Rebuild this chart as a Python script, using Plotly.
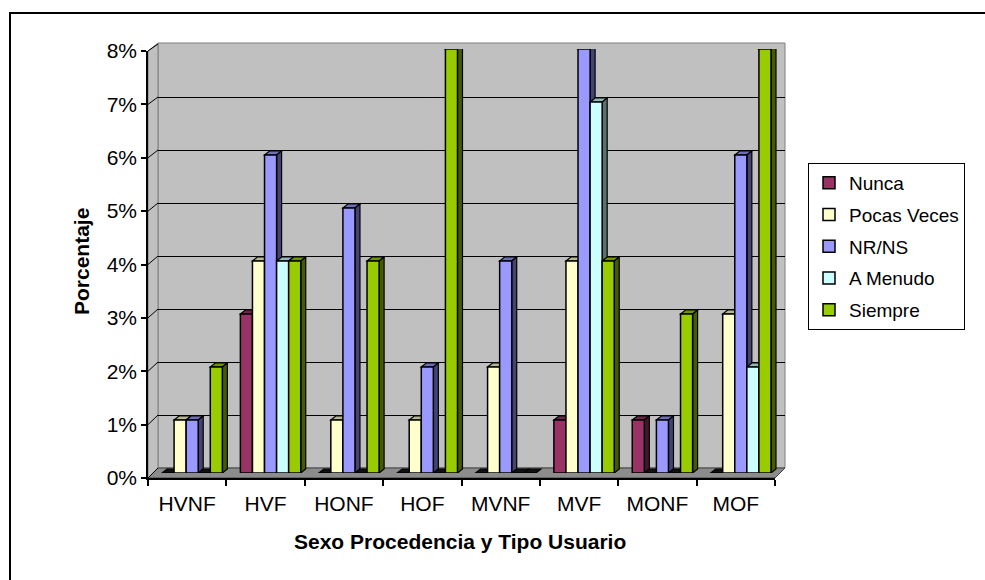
import plotly.graph_objects as go

# ---- data (percentages) ----
categorias = ["HVNF", "HVF", "HONF", "HOF", "MVNF", "MVF", "MONF", "MOF"]
nunca = [0, 3, 0, 0, 0, 1, 1, 0]
pocas_veces = [1, 4, 1, 1, 2, 4, 0, 3]
nr_ns = [1, 6, 5, 2, 4, 8, 1, 6]
a_menudo = [0, 4, 0, 0, 0, 7, 0, 2]
siempre = [2, 4, 4, 8, 0, 4, 3, 8]
series_nombres = ["Nunca", "Pocas Veces", "NR/NS", "A Menudo", "Siempre"]
series_valores = [nunca, pocas_veces, nr_ns, a_menudo, siempre]
ticks_y = [0, 1, 2, 3, 4, 5, 6, 7, 8]

# ---- styling ----
colores = ["#993366", "#FFFFCC", "#9999FF", "#CCFFFF", "#99CC00"]
FONT = "Liberation Sans, Arial, sans-serif"
W, H = 985, 580
BARGAP = 0.23


def px(xp):
    return xp / W


def py(yp):
    return 1 - yp / H


def shade(hexcol, f):
    h = hexcol.lstrip("#")
    r, g, b = (int(h[i:i + 2], 16) for i in (0, 2, 4))
    return "#%02x%02x%02x" % (int(r * f), int(g * f), int(b * f))


# pixel geometry of the 3D box: back wall, bar plane, front axes
WALL = dict(x0=158, x1=785, y0=468, y1=44)
BARS = dict(x0=153, x1=780, y0=473, y1=49)
FRONT = dict(x0=148, x1=775, y0=478, y1=51)
ncat = len(categorias)
ymax = ticks_y[-1]

fig = go.Figure()

# anchor traces so the wall and front-axis subplots exist
fig.add_trace(go.Scatter(x=[0], y=[0], xaxis="x", yaxis="y", mode="markers",
                         marker=dict(opacity=0), hoverinfo="skip", showlegend=False))
fig.add_trace(go.Scatter(x=categorias, y=[0] * ncat, xaxis="x3", yaxis="y3", mode="markers",
                         marker=dict(opacity=0), hoverinfo="skip", showlegend=False))

idx = list(range(ncat))
for nombre, vals, col in zip(series_nombres, series_valores, colores):
    fig.add_trace(go.Bar(
        x=idx, y=vals, name=nombre, xaxis="x2", yaxis="y2",
        marker=dict(color=col, line=dict(color="black", width=1.5)),
        customdata=categorias, legendgroup=nombre,
        hovertemplate="%{customdata}: %{y}%<extra>" + nombre + "</extra>",
    ))

# depth of each bar (side and top faces) in data units of the bar plane
ux = (BARS["x1"] - BARS["x0"]) / ncat
uy = (BARS["y0"] - BARS["y1"]) / ymax
dx = 5 / ux
dy = 4 / uy
nser = len(series_nombres)
bw = (1 - BARGAP) / nser

shapes = []
# back wall, side wall and floor
shapes.append(dict(type="rect", xref="paper", yref="paper", layer="below",
                   x0=px(WALL["x0"]), x1=px(WALL["x1"]), y0=py(WALL["y0"]), y1=py(WALL["y1"] - 1),
                   fillcolor="#C0C0C0", line=dict(color="#808080", width=1)))
side_path = "M %f,%f L %f,%f L %f,%f L %f,%f Z" % (
    px(FRONT["x0"]), py(FRONT["y1"]), px(WALL["x0"]), py(WALL["y1"] - 1),
    px(WALL["x0"]), py(WALL["y0"]), px(FRONT["x0"]), py(FRONT["y0"]))
shapes.append(dict(type="path", xref="paper", yref="paper", layer="below", path=side_path,
                   fillcolor="#C0C0C0", line=dict(color="#808080", width=1)))
floor_path = "M %f,%f L %f,%f L %f,%f L %f,%f Z" % (
    px(FRONT["x0"]), py(FRONT["y0"]), px(FRONT["x1"]), py(FRONT["y0"]),
    px(WALL["x1"]), py(WALL["y0"]), px(WALL["x0"]), py(WALL["y0"]))
shapes.append(dict(type="path", xref="paper", yref="paper", layer="below", path=floor_path,
                   fillcolor="#8C8C8C", line=dict(color="#404040", width=1)))
# gridline stubs across the side wall
for k in ticks_y:
    yf = FRONT["y0"] - k * (FRONT["y0"] - FRONT["y1"]) / ymax
    yw = WALL["y0"] - k * (WALL["y0"] - WALL["y1"]) / ymax
    shapes.append(dict(type="line", xref="paper", yref="paper", layer="below",
                       x0=px(FRONT["x0"]), y0=py(yf), x1=px(WALL["x0"]), y1=py(yw),
                       line=dict(color="black", width=1)))

# top and side faces of every bar, drawn just under the bar fronts
for j, (vals, col) in enumerate(zip(series_valores, colores)):
    for i, v in enumerate(vals):
        left = i - (1 - BARGAP) / 2 + j * bw
        right = left + bw
        top = "M %f,%f L %f,%f L %f,%f L %f,%f Z" % (
            left, v, right, v, right + dx, v + dy, left + dx, v + dy)
        # an empty bar collapses to a dark flat slab on the floor
        top_fill = shade(col, 0.72) if v > 0 else "#101010"
        shapes.append(dict(type="path", xref="x2", yref="y2", layer="between", path=top,
                           fillcolor=top_fill, line=dict(color="black", width=1.2)))
        if v > 0:
            side = "M %f,%f L %f,%f L %f,%f L %f,%f Z" % (
                right, 0, right, v, right + dx, v + dy, right + dx, dy)
            shapes.append(dict(type="path", xref="x2", yref="y2", layer="between", path=side,
                               fillcolor=shade(col, 0.45), line=dict(color="black", width=1.2)))

# outer frame of the chart area
shapes.append(dict(type="rect", xref="paper", yref="paper", layer="above",
                   x0=px(10), y0=-0.2, x1=1.2, y1=py(13),
                   line=dict(color="black", width=2), fillcolor="rgba(0,0,0,0)"))

hidden = dict(visible=False, automargin=False)
fig.update_layout(
    width=W, height=H,
    margin=dict(l=0, r=0, t=0, b=0, pad=0, autoexpand=False),
    paper_bgcolor="white",
    plot_bgcolor="rgba(0,0,0,0)",
    bargap=BARGAP, bargroupgap=0, barmode="group",
    font=dict(family=FONT, size=20, color="black"),
    xaxis=dict(domain=[px(WALL["x0"]), px(WALL["x1"])], range=[-0.5, ncat - 0.5],
               showgrid=False, zeroline=False, showticklabels=False, ticks="", showline=False,
               automargin=False),
    yaxis=dict(domain=[py(WALL["y0"]), py(WALL["y1"])], range=[0, ymax], tickvals=ticks_y,
               showgrid=True, gridcolor="black", gridwidth=1, zeroline=False,
               showticklabels=False, ticks="", showline=False, automargin=False),
    xaxis2=dict(domain=[px(BARS["x0"]), px(BARS["x1"])], range=[-0.5, ncat - 0.5],
                anchor="y2", **hidden),
    yaxis2=dict(domain=[py(BARS["y0"]), py(BARS["y1"])], range=[0, ymax],
                anchor="x2", **hidden),
    xaxis3=dict(domain=[px(FRONT["x0"]), px(FRONT["x1"])], range=[-0.5, ncat - 0.5],
                anchor="y3", type="category", tickson="boundaries",
                ticks="outside", ticklen=6, tickwidth=1.5, tickcolor="black",
                showline=True, linecolor="black", linewidth=1.5, ticklabelstandoff=6,
                showgrid=False, zeroline=False, tickfont=dict(size=21), automargin=False),
    yaxis3=dict(domain=[py(FRONT["y0"]), py(FRONT["y1"])], range=[0, ymax],
                anchor="x3", tickvals=ticks_y, ticktext=["%d%%" % t for t in ticks_y],
                ticks="outside", ticklen=5, tickwidth=1.5, tickcolor="black",
                showline=True, linecolor="black", linewidth=1.5,
                showgrid=False, zeroline=False, tickfont=dict(size=21), automargin=False),
    legend=dict(x=px(808), y=py(163), xanchor="left", yanchor="top",
                bgcolor="white", bordercolor="black", borderwidth=1,
                font=dict(size=19), tracegroupgap=4, traceorder="grouped"),
    shapes=shapes,
    annotations=[
        dict(text="<b>Porcentaje</b>", xref="paper", yref="paper", x=px(81), y=py(262),
             textangle=-90, showarrow=False, xanchor="center", yanchor="middle",
             font=dict(size=21)),
        dict(text="<b>Sexo Procedencia y Tipo Usuario</b>", xref="paper", yref="paper",
             x=px(460), y=py(541), showarrow=False, xanchor="center", yanchor="middle",
             font=dict(size=21)),
    ],
)

fig.write_html("out.html")
